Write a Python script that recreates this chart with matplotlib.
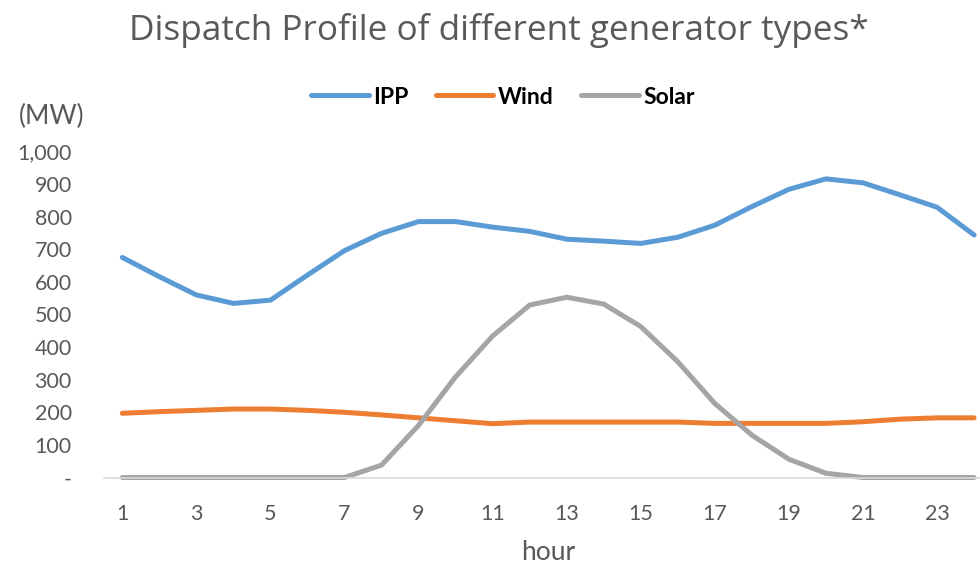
import matplotlib
matplotlib.use("Agg")
import matplotlib.pyplot as plt
from matplotlib.ticker import FuncFormatter

# hourly dispatch (MW)
hours = list(range(1, 25))
ipp = [675, 616, 560, 534, 544, 621, 696, 749, 785, 785, 768, 755,
       731, 725, 718, 737, 774, 831, 884, 916, 904, 867, 829, 744]
wind = [197, 202, 206, 210, 210, 206, 200, 192, 183, 174, 165, 170,
        170, 170, 170, 170, 166, 166, 166, 166, 171, 179, 183, 183]
solar = [0, 0, 0, 0, 0, 0, 0, 38, 160, 309, 434, 529,
         553, 532, 463, 355, 227, 130, 56, 13, 0, 0, 0, 0]
xticks = list(range(1, 25, 2))
yticks = list(range(0, 1001, 100))

grey = "#595959"
fig = plt.figure(figsize=(9.8, 5.66), dpi=100)
ax = fig.add_axes([103.8 / 980, 1 - 477.5 / 566, 1 - 103.8 / 980, (477.5 - 151.5) / 566])

lw = 3.6
ax.plot(hours, ipp, color="#5B9BD5", lw=lw, label="IPP", solid_capstyle="round", clip_on=False)
ax.plot(hours, wind, color="#ED7D31", lw=lw, label="Wind", solid_capstyle="round", clip_on=False)
ax.plot(hours, solar, color="#A5A5A5", lw=lw, label="Solar", solid_capstyle="round", clip_on=False)

ax.set_xlim(0.5, 24.16)
ax.set_ylim(0, 1000)
ax.set_xticks(xticks)
ax.set_yticks(yticks)
ax.yaxis.set_major_formatter(FuncFormatter(lambda v, p: "-" if v == 0 else f"{int(v):,}"))
ax.tick_params(length=0, labelsize=15.5, labelcolor=grey)
ax.tick_params(axis="y", pad=23)
ax.tick_params(axis="x", pad=19)
for lab in ax.get_xticklabels() + ax.get_yticklabels():
    lab.set_fontfamily("Lato")

for s in ["top", "right", "left"]:
    ax.spines[s].set_visible(False)
ax.spines["bottom"].set_color("#D9D9D9")
ax.spines["bottom"].set_linewidth(1.2)
ax.set_zorder(1)

fig.text(499 / 980, 1 - 30 / 566, "Dispatch Profile of different generator types*",
         ha="center", va="center", fontsize=25.3, color=grey, family="Open Sans")
fig.text(52 / 980, 1 - 116 / 566, "(MW)", ha="center", va="center",
         fontsize=19, color=grey, family="Lato")
fig.text(548 / 980, 1 - 553 / 566, "hour", ha="center", va="center",
         fontsize=19, color=grey, family="Lato")

leg = fig.legend(loc="center", bbox_to_anchor=(503 / 980, 1 - 97 / 566), ncol=3,
                 frameon=False, handlelength=2.5, handletextpad=0.2, columnspacing=1.2,
                 prop={"family": "Lato", "weight": "bold", "size": 16.5})

fig.savefig("out.png", dpi=100)
